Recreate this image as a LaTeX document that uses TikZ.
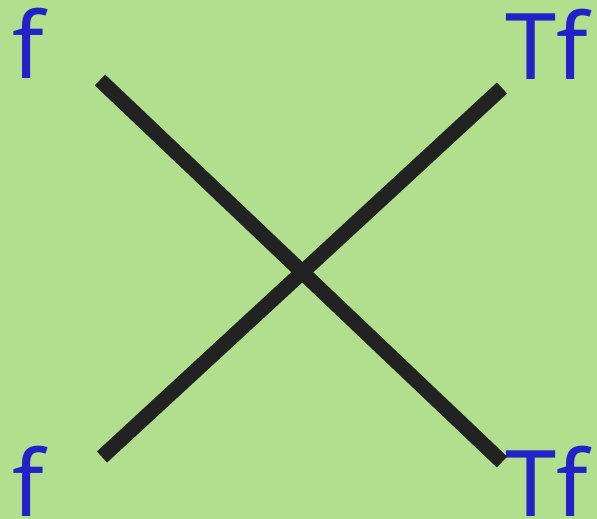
\documentclass[tikz,border=0pt]{standalone}
\usepackage{fontspec}
\setmainfont{Noto Sans}
\definecolor{bg}{RGB}{177,223,142}
\definecolor{lbl}{RGB}{34,34,200}
\definecolor{ln}{RGB}{34,34,34}
\begin{document}
\begin{tikzpicture}[x=1pt,y=1pt,
  lab/.style={inner sep=0pt, anchor=base west, text=lbl, font=\fontsize{92}{92}\selectfont},
  bar/.style={draw=ln, line width=15pt, line cap=butt}]
\fill[bg] (0,0) rectangle (597,519);
\useasboundingbox (0,0) rectangle (597,519);
\node[lab] (tl) at (12,440) {f};
\node[lab] (tr) at (505,439) {Tf};
\node[lab] (bl) at (12,2) {f};
\node[lab] (br) at (505,2) {Tf};
\coordinate (a) at (100,439);
\coordinate (b) at (502,57);
\coordinate (c) at (502,431);
\coordinate (d) at (102,62);
\draw[bar] (a) -- (b);
\draw[bar] (c) -- (d);
\end{tikzpicture}
\end{document}
